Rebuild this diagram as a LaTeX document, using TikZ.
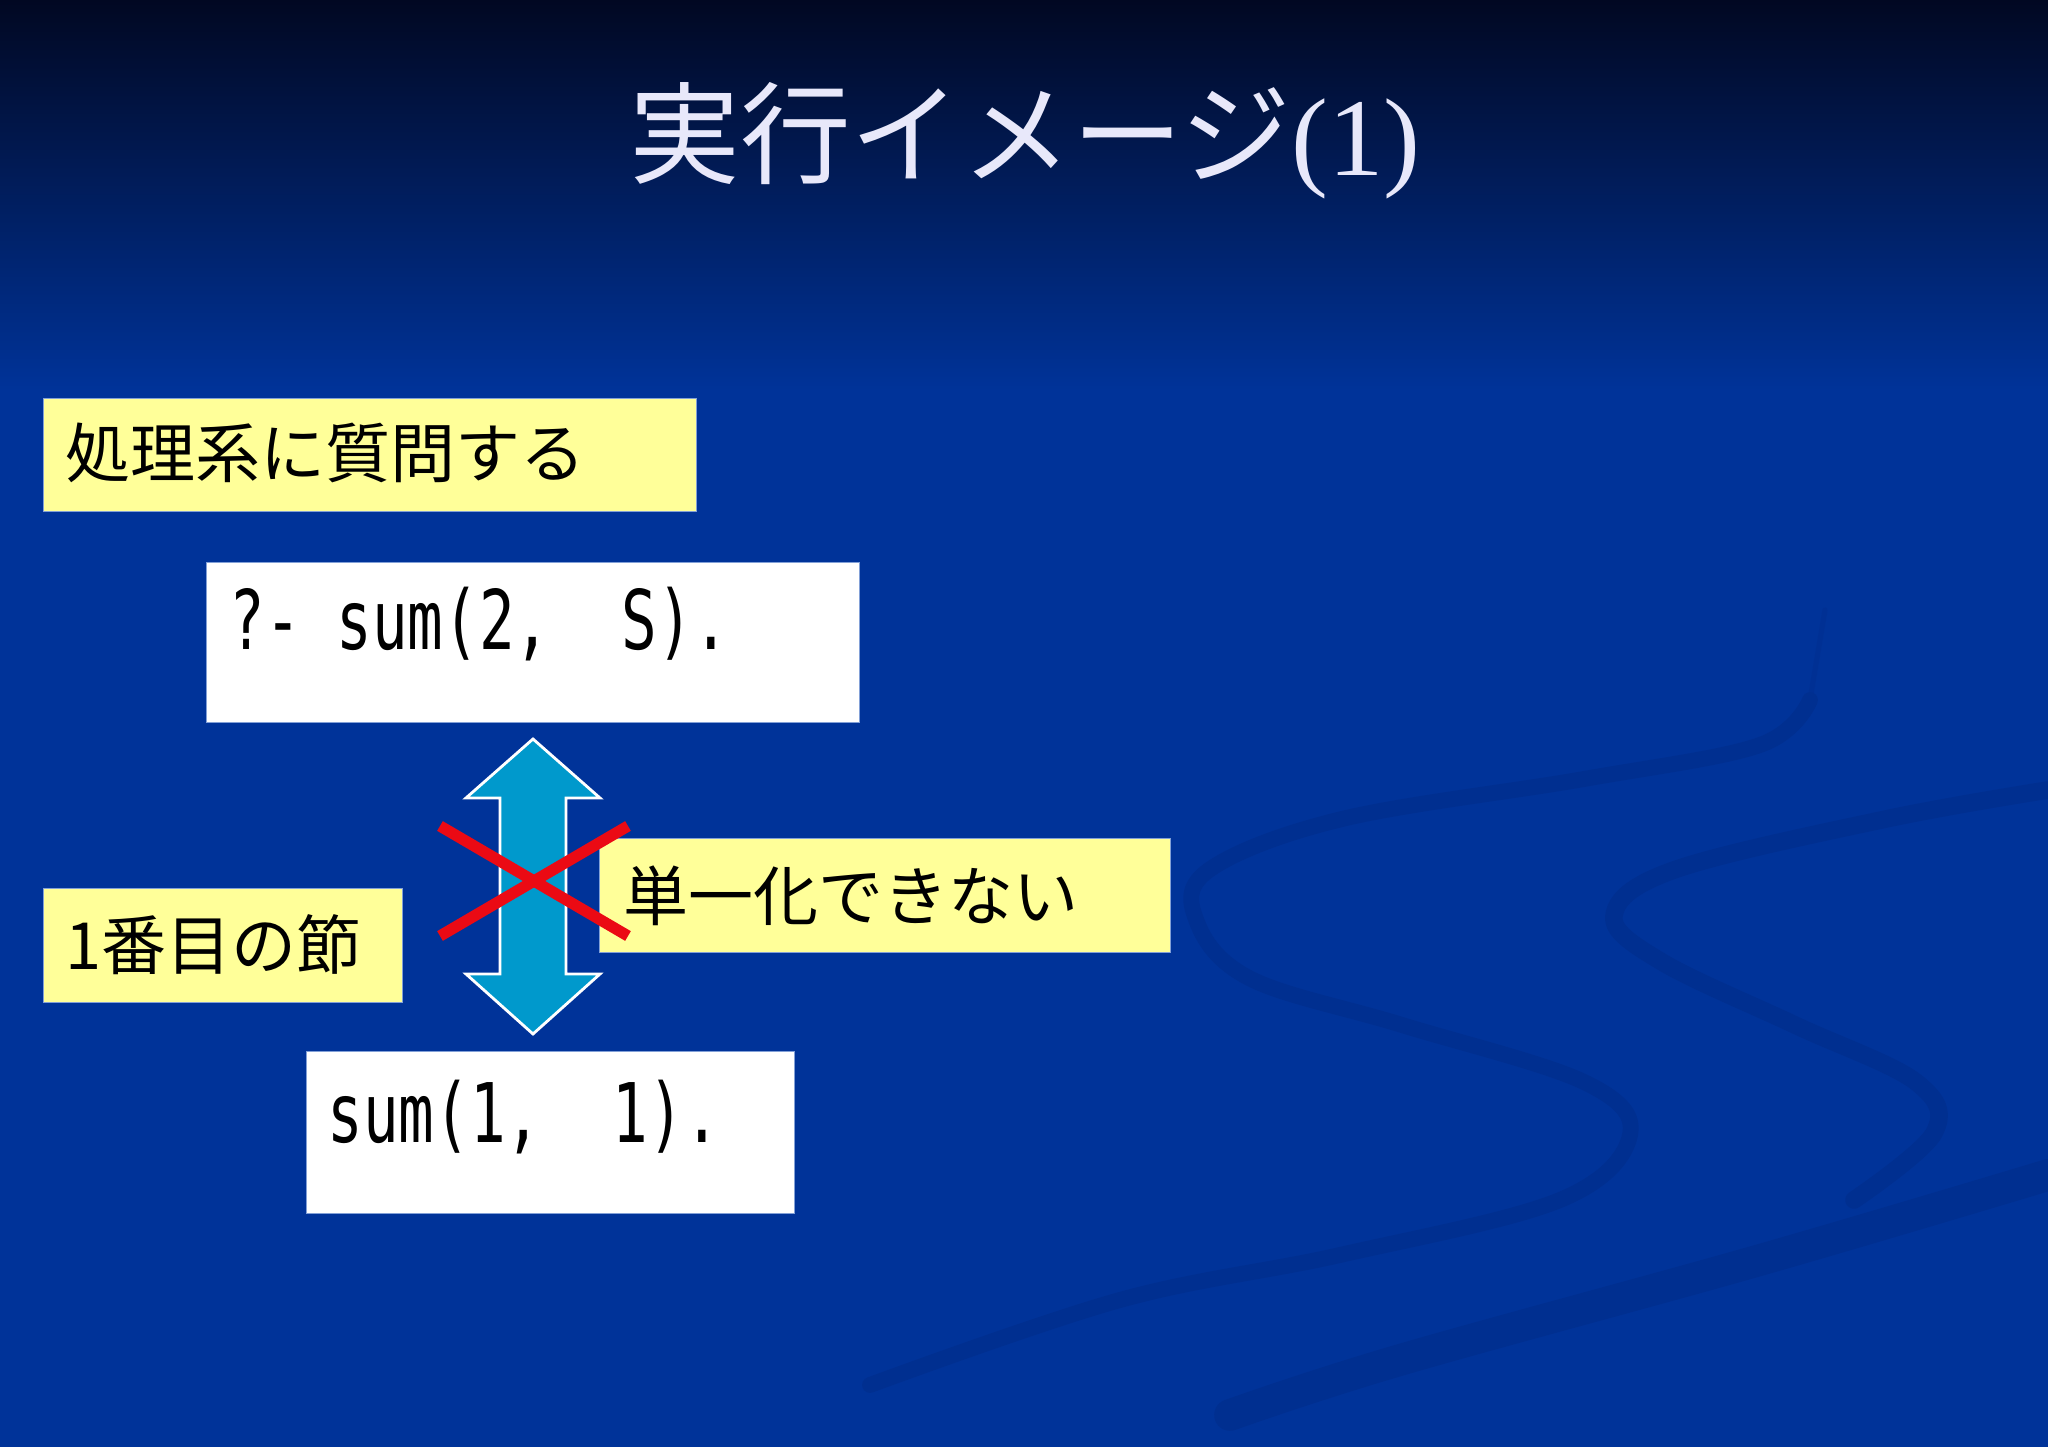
\documentclass[tikz,border=0pt]{standalone}
\usepackage{fontspec}
\newfontfamily\jpfont{Noto Sans CJK JP}
\newfontfamily\codefont[FakeStretch=0.72]{DejaVu Sans Mono}
\newfontfamily\parenfont{Liberation Serif}
\definecolor{bgtop}{RGB}{1,8,34}
\definecolor{bgblue}{RGB}{0,51,153}
\definecolor{wavecol}{RGB}{0,47,144}
\definecolor{notecol}{RGB}{255,255,153}
\definecolor{edgecol}{RGB}{130,160,215}
\definecolor{arrowcol}{RGB}{0,153,204}
\definecolor{titlecol}{RGB}{232,232,250}
\definecolor{crosscol}{RGB}{235,10,20}
\begin{document}
\begin{tikzpicture}
\tikzset{
  notebox/.style={fill=notecol,draw=edgecol,line width=0.4pt,anchor=north west,inner sep=0pt},
  codebox/.style={fill=white,draw=edgecol,line width=0.4pt,anchor=north west,inner sep=0pt},
  jptext/.style={font=\jpfont\fontsize{18.5}{22}\selectfont,text=black,inner sep=0pt,anchor=west},
  codetext/.style={font=\codefont\fontsize{23.4}{28}\selectfont,text=black,inner sep=0pt,anchor=base west},
  wave/.style={draw=wavecol,line cap=round,line join=round}
}
\useasboundingbox (0,0) rectangle (20.48,-14.47);
\shade [top color=bgtop,bottom color=bgblue] (0,0) rectangle (20.48,-3.9);
\fill [bgblue] (0,-3.9) rectangle (20.48,-14.47);
% background waves
\draw [wave,line width=1.5pt,draw opacity=0.5] (18.25,-6.1) -- (18.1,-7.0);
\draw [wave,line width=4.5pt] plot [smooth,tension=0.6] coordinates {(18.1,-7.0) (17.6,-7.45) (15.84,-7.79) (13.42,-8.19) (12.09,-8.70) (11.97,-9.22) (12.51,-9.79) (14.02,-10.25) (15.84,-10.82) (16.30,-11.35) (15.6,-12.0) (13.4,-12.55) (11.2,-13.0) (8.7,-13.85)};
\draw [wave,line width=5pt] plot [smooth,tension=0.6] coordinates {(20.48,-7.90) (18.86,-8.19) (16.74,-8.70) (16.14,-9.16) (16.62,-9.62) (17.95,-10.25) (19.16,-10.82) (19.34,-11.33) (18.54,-12.0)};
\draw [wave,line width=9pt] plot [smooth,tension=0.6] coordinates {(20.48,-11.75) (17.6,-12.6) (14.0,-13.6) (12.3,-14.15)};
\node [font=\jpfont\fontsize{31.5}{36}\selectfont,text=titlecol] (title) at (10.25,-1.41) {実行イメージ{\parenfont(1)}};
\node [notebox,minimum width=6.53cm,minimum height=1.13cm] (ask) at (0.43,-3.98) {};
\node [jptext] (asktext) at (0.65,-4.53) {処理系に質問する};
\node [codebox,minimum width=6.53cm,minimum height=1.60cm] (query) at (2.06,-5.62) {};
\node [codetext] (querytext) at (2.29,-6.50) {?-\ sum(2,\ \ S).};
\node [notebox,minimum width=3.59cm,minimum height=1.14cm] (first) at (0.43,-8.88) {};
\node [jptext] (firsttext) at (0.65,-9.45) {1番目の節};
\node [notebox,minimum width=5.71cm,minimum height=1.14cm] (fail) at (5.99,-8.38) {};
\node [jptext] (failtext) at (6.23,-8.96) {単一化できない};
\node [codebox,minimum width=4.88cm,minimum height=1.62cm] (clause) at (3.06,-10.51) {};
\node [codetext] (clausetext) at (3.27,-11.43) {sum(1,\ \ 1).};
% double arrow between query and clause
\coordinate (top) at (5.33,-7.39);
\coordinate (bot) at (5.33,-10.34);
\fill [arrowcol,draw=white,line width=0.8pt] (top) -- (6.00,-7.98) -- (5.66,-7.98) -- (5.66,-9.74) -- (6.00,-9.74) -- (bot) -- (4.66,-9.74) -- (5.00,-9.74) -- (5.00,-7.98) -- (4.66,-7.98) -- cycle;
\draw [crosscol,line width=3.2pt] (4.40,-8.26) -- (6.28,-9.36);
\draw [crosscol,line width=3.2pt] (4.40,-9.36) -- (6.28,-8.26);
\end{tikzpicture}
\end{document}
